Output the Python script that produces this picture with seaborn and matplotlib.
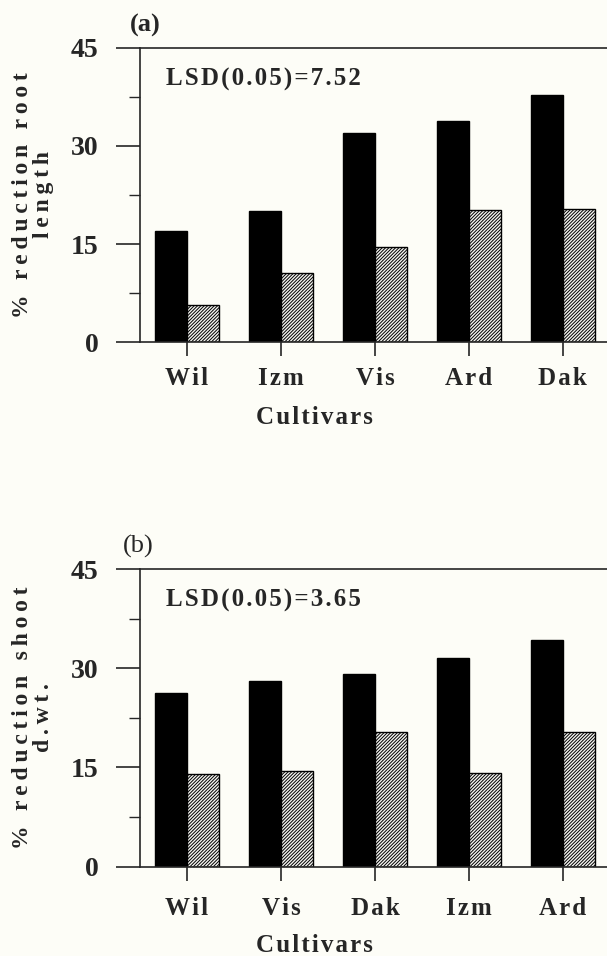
import matplotlib
matplotlib.use("Agg")
import matplotlib.pyplot as plt
import numpy as np
import pandas as pd
import seaborn as sns

# ---- data -------------------------------------------------------------
cultivars_a = ["Wil", "Izm", "Vis", "Ard", "Dak"]
solid_a = [17.0, 20.1, 32.0, 33.8, 37.8]
hatched_a = [5.6, 10.5, 14.6, 20.2, 20.3]

cultivars_b = ["Wil", "Vis", "Dak", "Izm", "Ard"]
solid_b = [26.2, 28.0, 29.2, 31.5, 34.3]
hatched_b = [14.0, 14.5, 20.3, 14.2, 20.4]

y_ticks = [0, 15, 30, 45]
y_minor = [7.5, 22.5, 37.5]
lsd_a = "LSD(0.05)=7.52"
lsd_b = "LSD(0.05)=3.65"

# ---- style ------------------------------------------------------------
sns.set_style("ticks")
BG = "#fdfdf7"
plt.rcParams["font.family"] = ["Liberation Serif", "DejaVu Serif"]
plt.rcParams["font.weight"] = "bold"
plt.rcParams["hatch.linewidth"] = 0.7
plt.rcParams["axes.linewidth"] = 1.2

THIN = "\u2009"
HAIR = "\u200a"


def track(text, sep=HAIR):
    """Spread letters apart with narrow spaces."""
    return "\n".join(sep.join(line) for line in text.split("\n"))


W, H = 607, 956
fig = plt.figure(figsize=(W / 100, H / 100), dpi=100, facecolor=BG)
ax_a = fig.add_axes([140 / W, 1 - 342 / H, 467 / W, 294 / H])
ax_b = fig.add_axes([140 / W, 1 - 866.7 / H, 467 / W, 297.7 / H])


def draw_panel(ax, cultivars, solid, hatched, lsd, ylabel, xpad):
    df = pd.DataFrame({
        "cultivar": cultivars * 2,
        "value": solid + hatched,
        "group": ["solid"] * len(cultivars) + ["hatched"] * len(cultivars),
    })
    sns.barplot(data=df, x="cultivar", y="value", hue="group",
                order=cultivars, hue_order=["solid", "hatched"],
                palette={"solid": "black", "hatched": "#f4f4f0"},
                saturation=1, width=0.68, gap=0, errorbar=None,
                edgecolor="black", linewidth=1.0, legend=False, ax=ax)
    for p in ax.containers[1]:
        p.set_hatch("//////////")

    ax.set_facecolor(BG)
    ax.set_xlim(-0.5, 4.47)
    ax.set_ylim(0, 45)
    ax.set_yticks(y_ticks)
    ax.set_yticks(y_minor, minor=True)
    ax.set_yticklabels([str(t) for t in y_ticks], fontsize=20, fontweight="bold")
    ax.set_xticks(range(len(cultivars)))
    ax.set_xticklabels([track(c, HAIR) for c in cultivars], fontsize=18,
                       fontweight="bold")
    ax.tick_params(axis="y", which="major", length=17, width=1.2, pad=13)
    ax.tick_params(axis="y", which="minor", length=8, width=1.0)
    ax.tick_params(axis="x", which="major", length=10, width=1.2, pad=xpad)

    ax.spines["right"].set_visible(False)
    for s in ("left", "top", "bottom"):
        ax.spines[s].set_visible(True)

    ax.set_xlabel(track("Cultivars", HAIR), fontsize=18, fontweight="bold")
    ax.set_ylabel(track(ylabel, THIN), fontsize=17, fontweight="bold",
                  linespacing=0.95)
    ax.yaxis.set_label_coords(-0.185, 0.5)

    ax.text(26 / 467, 1 - 31 / 294, track(lsd, HAIR), transform=ax.transAxes,
            fontsize=18, fontweight="bold", ha="left", va="center")


draw_panel(ax_a, cultivars_a, solid_a, hatched_a, lsd_a,
           "% reduction root\nlength", xpad=8)
draw_panel(ax_b, cultivars_b, solid_b, hatched_b, lsd_b,
           "% reduction shoot\nd.wt.", xpad=12)

# place the x labels at a fixed height below each panel
for ax, y_px in ((ax_a, 417), (ax_b, 946)):
    bbox = ax.get_position()
    y_axes = (1 - y_px / H - bbox.y0) / bbox.height
    ax.xaxis.set_label_coords(174 / 467, y_axes)
    ax.xaxis.label.set_va("center")

fig.text(130 / W, 1 - 25 / H, "(a)", fontsize=19, fontweight="bold",
         ha="left", va="center")
fig.text(123 / W, 1 - 546 / H, "(b)", fontsize=19, fontweight="normal",
         ha="left", va="center")

fig.savefig("out.png", dpi=100, facecolor=BG)
